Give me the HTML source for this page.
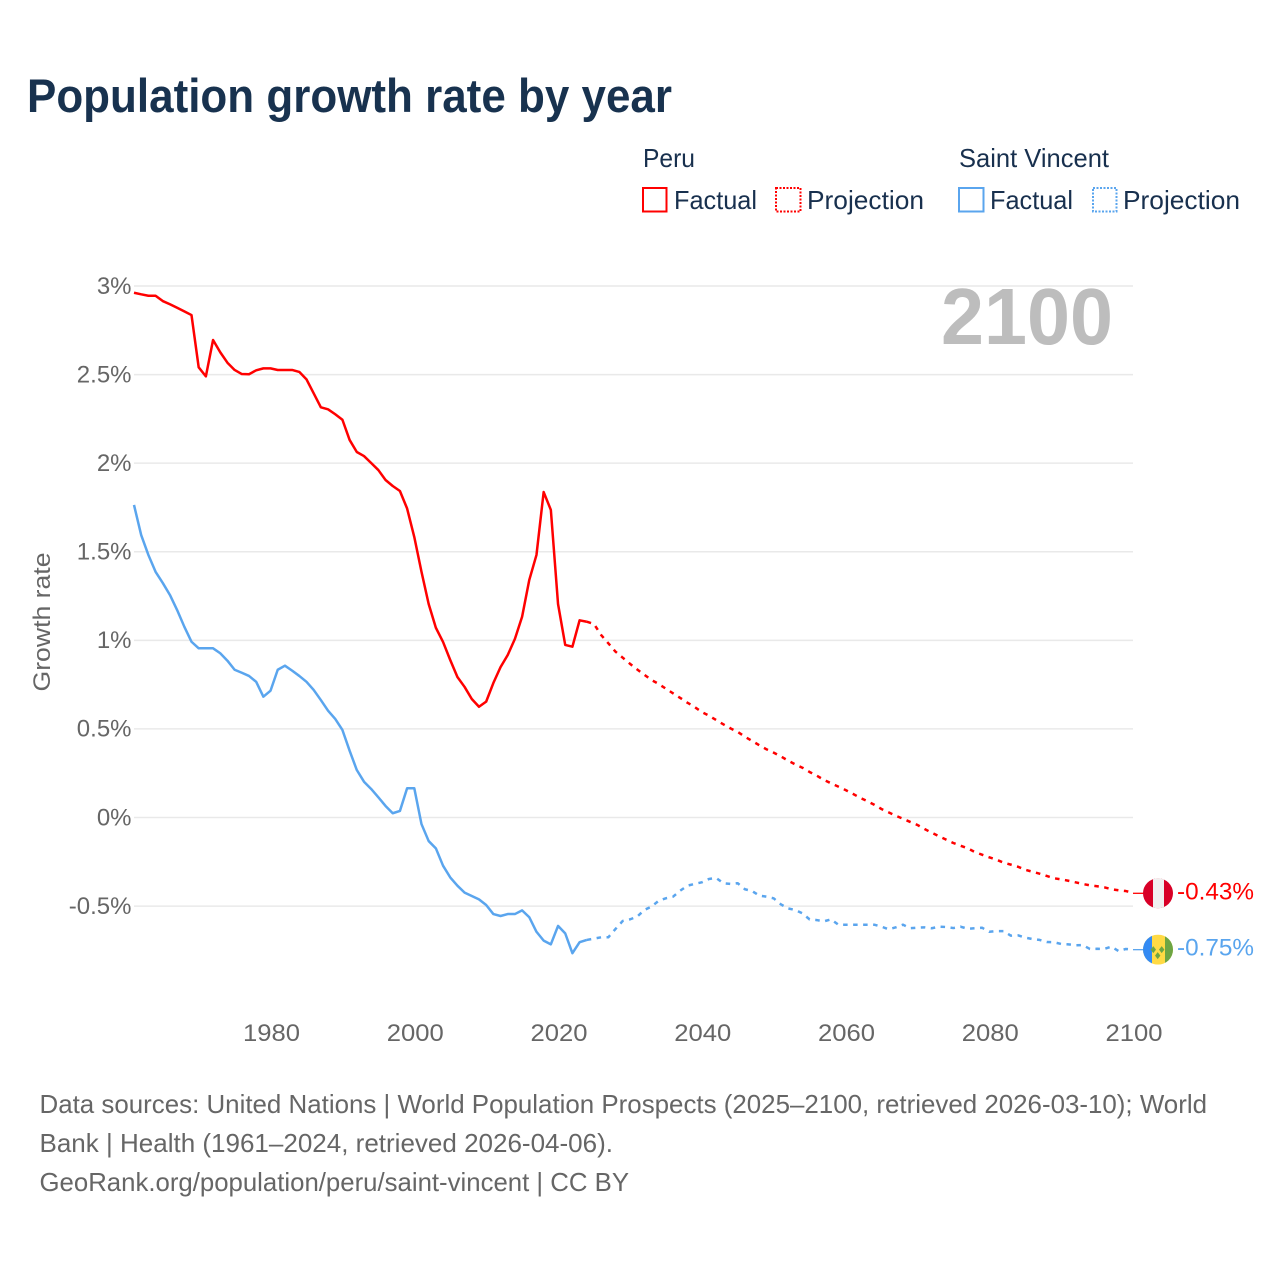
<!DOCTYPE html>
<html lang="en">
<head>
<meta charset="utf-8">
<title>Population growth rate by year</title>
<style>
  html, body { margin: 0; padding: 0; background: #fff; }
  svg { display: block; font-family: "Liberation Sans", sans-serif; }
</style>
</head>
<body>
<svg id="chart" xmlns="http://www.w3.org/2000/svg" width="1280" height="1280" viewBox="0 0 1280 1280">
  <rect x="0" y="0" width="1280" height="1280" fill="#ffffff"/>
  <text x="27" y="112" font-size="47" font-weight="700" fill="#18324f" textLength="645" lengthAdjust="spacingAndGlyphs">Population growth rate by year</text>

  <g font-size="26" fill="#18304e">
    <text x="643" y="167" textLength="52" lengthAdjust="spacingAndGlyphs">Peru</text>
    <text x="959" y="167" textLength="150" lengthAdjust="spacingAndGlyphs">Saint Vincent</text>
    <rect x="643" y="188" width="23.5" height="23.5" fill="none" stroke="#ff0000" stroke-width="2"/>
    <text x="674" y="209" textLength="83" lengthAdjust="spacingAndGlyphs">Factual</text>
    <rect x="776" y="188" width="24.5" height="23.5" fill="none" stroke="#ff0000" stroke-width="2" stroke-dasharray="2 1.5"/>
    <text x="807" y="209" textLength="117" lengthAdjust="spacingAndGlyphs">Projection</text>
    <rect x="959" y="188" width="24.5" height="23.5" fill="none" stroke="#5aa5ee" stroke-width="2"/>
    <text x="990" y="209" textLength="83" lengthAdjust="spacingAndGlyphs">Factual</text>
    <rect x="1093" y="188" width="23.5" height="23.5" fill="none" stroke="#5aa5ee" stroke-width="2" stroke-dasharray="2 1.5"/>
    <text x="1123" y="209" textLength="117" lengthAdjust="spacingAndGlyphs">Projection</text>
  </g>

  <g id="grid"></g>
  <text x="941" y="344" font-size="80" font-weight="700" fill="#bdbdbd" textLength="172" lengthAdjust="spacingAndGlyphs">2100</text>
  <g id="yticks"></g>
  <g id="xticks"></g>
  <text transform="translate(50 622) rotate(-90)" text-anchor="middle" font-size="24" fill="#666666" textLength="139" lengthAdjust="spacingAndGlyphs">Growth rate</text>
  <g id="series"></g>
  <defs>
    <clipPath id="flag-clip"><circle cx="0" cy="0" r="15"/></clipPath>
  </defs>
  <g id="endcaps"></g>

  <g font-size="26" fill="#666666">
    <text x="39.5" y="1113" textLength="1167.5" lengthAdjust="spacingAndGlyphs">Data sources: United Nations | World Population Prospects (2025–2100, retrieved 2026-03-10); World</text>
    <text x="39.5" y="1152" textLength="573.5" lengthAdjust="spacingAndGlyphs">Bank | Health (1961–2024, retrieved 2026-04-06).</text>
    <text x="39.5" y="1191" textLength="589.5" lengthAdjust="spacingAndGlyphs">GeoRank.org/population/peru/saint-vincent | CC BY</text>
  </g>
</svg>
<script>
const firstYear = 1961;
const lastYear = 2100;
const yTickValues = [3, 2.5, 2, 1.5, 1, 0.5, 0, -0.5];
const yTickLabels = ["3%", "2.5%", "2%", "1.5%", "1%", "0.5%", "0%", "-0.5%"];
const xTickYears = [1980, 2000, 2020, 2040, 2060, 2080, 2100];
const xTickLabels = ["1980", "2000", "2020", "2040", "2060", "2080", "2100"];

const peruFactual = [2.962,2.953,2.945,2.945,2.915,2.897,2.877,2.857,2.836,2.541,2.490,2.695,2.626,2.567,2.526,2.503,2.502,2.524,2.535,2.535,2.526,2.526,2.526,2.515,2.473,2.394,2.315,2.304,2.276,2.245,2.131,2.063,2.040,2.001,1.961,1.905,1.871,1.843,1.744,1.583,1.387,1.205,1.071,0.991,0.889,0.793,0.737,0.669,0.625,0.654,0.759,0.849,0.917,1.008,1.133,1.341,1.482,1.837,1.736,1.205,0.974,0.964,1.113,1.105];
const peruProjection = [1.092,1.030,0.983,0.936,0.902,0.868,0.836,0.806,0.776,0.754,0.727,0.701,0.675,0.648,0.624,0.595,0.575,0.550,0.526,0.503,0.483,0.456,0.432,0.408,0.385,0.366,0.345,0.321,0.300,0.281,0.257,0.236,0.212,0.193,0.174,0.155,0.134,0.112,0.093,0.072,0.048,0.029,0.010,-0.007,-0.025,-0.042,-0.065,-0.086,-0.106,-0.125,-0.144,-0.159,-0.174,-0.195,-0.210,-0.225,-0.238,-0.255,-0.266,-0.278,-0.295,-0.306,-0.317,-0.330,-0.343,-0.349,-0.357,-0.366,-0.375,-0.383,-0.388,-0.394,-0.405,-0.411,-0.415,-0.425];
const vincentFactual = [1.764,1.594,1.482,1.387,1.324,1.256,1.171,1.077,0.992,0.955,0.955,0.955,0.927,0.885,0.834,0.817,0.799,0.766,0.682,0.716,0.834,0.857,0.829,0.799,0.766,0.720,0.663,0.603,0.556,0.494,0.377,0.268,0.202,0.161,0.114,0.065,0.024,0.037,0.165,0.165,-0.037,-0.133,-0.174,-0.272,-0.338,-0.385,-0.424,-0.443,-0.462,-0.494,-0.545,-0.556,-0.545,-0.545,-0.524,-0.563,-0.645,-0.695,-0.716,-0.612,-0.654,-0.766,-0.704,-0.691];
const vincentProjection = [-0.684,-0.676,-0.676,-0.629,-0.584,-0.575,-0.560,-0.522,-0.503,-0.470,-0.456,-0.447,-0.413,-0.385,-0.375,-0.366,-0.347,-0.341,-0.371,-0.375,-0.371,-0.405,-0.415,-0.441,-0.447,-0.456,-0.490,-0.513,-0.522,-0.541,-0.575,-0.579,-0.586,-0.575,-0.605,-0.605,-0.605,-0.605,-0.605,-0.605,-0.616,-0.631,-0.620,-0.605,-0.625,-0.622,-0.620,-0.625,-0.616,-0.618,-0.624,-0.616,-0.628,-0.625,-0.622,-0.645,-0.641,-0.641,-0.667,-0.665,-0.678,-0.686,-0.691,-0.703,-0.704,-0.714,-0.716,-0.721,-0.720,-0.742,-0.741,-0.742,-0.729,-0.754,-0.742,-0.746];
const peruEndLabel = "-0.43%";
const vincentEndLabel = "-0.75%";

const NS = "http://www.w3.org/2000/svg";
const RED = "#ff0000";
const BLUE = "#5aa5ee";

function xScale(year) {
  return 134 + (year - firstYear) * (1133 - 134) / (lastYear - firstYear);
}
function yScale(value) {
  return 817.5 - value * 177.17;
}
function make(tag, parent) {
  const el = document.createElementNS(NS, tag);
  parent.appendChild(el);
  return el;
}
function linePath(values, startYear) {
  return values.map(function (v, i) {
    return (i ? "L" : "M") + xScale(startYear + i).toFixed(2) + " " + yScale(v).toFixed(2);
  }).join(" ");
}

const grid = document.getElementById("grid");
const yticks = document.getElementById("yticks");
yTickValues.forEach(function (v, i) {
  const ln = make("line", grid);
  
  
  ln.setAttribute("x1", xScale(firstYear));
  ln.setAttribute("x2", xScale(lastYear));
  ln.setAttribute("y1", yScale(v));
  ln.setAttribute("y2", yScale(v));
  ln.setAttribute("stroke", "#e9e9e9");
  ln.setAttribute("stroke-width", "1.5");

  const t = make("text", yticks);
  
  
  t.setAttribute("x", 131.5);
  t.setAttribute("y", yScale(v) + 7.8);
  t.setAttribute("text-anchor", "end");
  t.setAttribute("font-size", "24");
  t.setAttribute("fill", "#666666");
  t.textContent = yTickLabels[i];
});

const xticks = document.getElementById("xticks");
xTickYears.forEach(function (yr, i) {
  const t = make("text", xticks);
  
  
  t.setAttribute("x", xScale(yr) + 1);
  t.setAttribute("y", 1041);
  t.setAttribute("text-anchor", "middle");
  t.setAttribute("font-size", "24");
  t.setAttribute("fill", "#666666");
  t.setAttribute("textLength", "57");
  t.setAttribute("lengthAdjust", "spacingAndGlyphs");
  t.textContent = xTickLabels[i];
});

const seriesGroup = document.getElementById("series");
function styleLine(p, color) {
  p.setAttribute("fill", "none");
  p.setAttribute("stroke", color);
  p.setAttribute("stroke-width", "2.5");
  p.setAttribute("stroke-linejoin", "round");
}

const peruFactualLine = make("path", seriesGroup);


peruFactualLine.setAttribute("d", linePath(peruFactual, firstYear));
styleLine(peruFactualLine, RED);

const peruProjectionLine = make("path", seriesGroup);


peruProjectionLine.setAttribute("d", linePath([peruFactual[peruFactual.length - 1]].concat(peruProjection), firstYear + peruFactual.length - 1));
styleLine(peruProjectionLine, RED);
peruProjectionLine.setAttribute("stroke-dasharray", "4.5 5.5");

const vincentFactualLine = make("path", seriesGroup);


vincentFactualLine.setAttribute("d", linePath(vincentFactual, firstYear));
styleLine(vincentFactualLine, BLUE);

const vincentProjectionLine = make("path", seriesGroup);


vincentProjectionLine.setAttribute("d", linePath([vincentFactual[vincentFactual.length - 1]].concat(vincentProjection), firstYear + vincentFactual.length - 1));
styleLine(vincentProjectionLine, BLUE);
vincentProjectionLine.setAttribute("stroke-dasharray", "4.5 5.5");

const endcaps = document.getElementById("endcaps");
const peruEndY = yScale(peruProjection[peruProjection.length - 1]) + 0.5;
const vincentEndY = yScale(vincentProjection[vincentProjection.length - 1]);

const peruConnector = make("line", endcaps);


peruConnector.setAttribute("x1", xScale(lastYear));
peruConnector.setAttribute("x2", 1144);
peruConnector.setAttribute("y1", peruEndY);
peruConnector.setAttribute("y2", peruEndY);
peruConnector.setAttribute("stroke", RED);
peruConnector.setAttribute("stroke-width", "1.3");

const vincentConnector = make("line", endcaps);


vincentConnector.setAttribute("x1", xScale(lastYear));
vincentConnector.setAttribute("x2", 1144);
vincentConnector.setAttribute("y1", vincentEndY);
vincentConnector.setAttribute("y2", vincentEndY);
vincentConnector.setAttribute("stroke", BLUE);
vincentConnector.setAttribute("stroke-width", "1.3");

const peruFlag = make("g", endcaps);


peruFlag.setAttribute("transform", "translate(1158 " + peruEndY + ")");
peruFlag.setAttribute("clip-path", "url(#flag-clip)");
peruFlag.innerHTML = '<rect x="-15" y="-15" width="30" height="30" fill="#d80027"/><rect x="-5" y="-15" width="11" height="30" fill="#f0f0f0"/>';

const vincentFlag = make("g", endcaps);


vincentFlag.setAttribute("transform", "translate(1158 " + vincentEndY + ")");
vincentFlag.setAttribute("clip-path", "url(#flag-clip)");
vincentFlag.innerHTML = '<rect x="-15" y="-15" width="30" height="30" fill="#ffda44"/><rect x="-15" y="-15" width="9" height="30" fill="#338af3"/><rect x="7" y="-15" width="8" height="30" fill="#6da544"/><path d="M-4.7 -3.5l2.7 3.5l-2.7 3.5l-2.7 -3.5z M3.7 -3.5l2.7 3.5l-2.7 3.5l-2.7 -3.5z M-0.3 2.5l2.7 3.5l-2.7 3.5l-2.7 -3.5z" fill="#6da544"/>';

const peruLabel = make("text", endcaps);


peruLabel.setAttribute("x", 1177);
peruLabel.setAttribute("y", peruEndY + 6);
peruLabel.setAttribute("font-size", "24");
peruLabel.setAttribute("fill", RED);
peruLabel.setAttribute("textLength", "77");
peruLabel.setAttribute("lengthAdjust", "spacingAndGlyphs");
peruLabel.textContent = peruEndLabel;

const vincentLabel = make("text", endcaps);


vincentLabel.setAttribute("x", 1177);
vincentLabel.setAttribute("y", vincentEndY + 6);
vincentLabel.setAttribute("font-size", "24");
vincentLabel.setAttribute("fill", BLUE);
vincentLabel.setAttribute("textLength", "77");
vincentLabel.setAttribute("lengthAdjust", "spacingAndGlyphs");
vincentLabel.textContent = vincentEndLabel;
</script>
</body>
</html>
